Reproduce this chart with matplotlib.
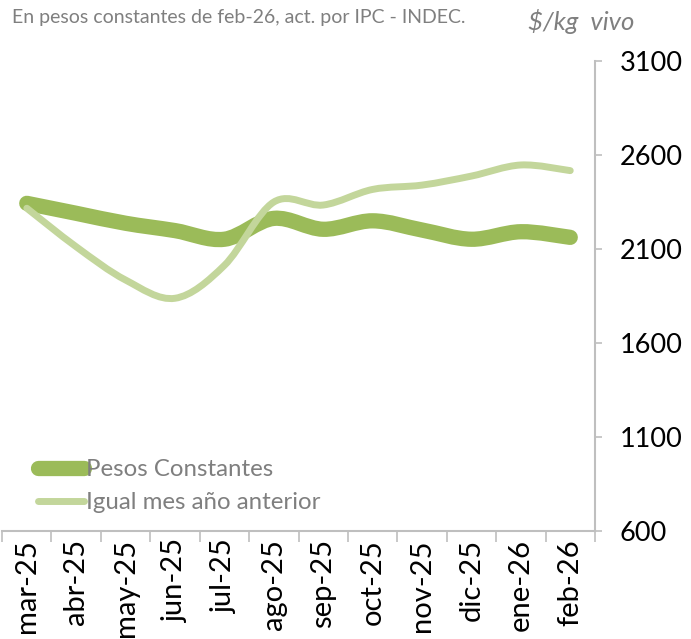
import matplotlib
matplotlib.use("Agg")
import matplotlib.pyplot as plt
from matplotlib.path import Path
from matplotlib.patches import PathPatch
from matplotlib.lines import Line2D

plt.rcParams["font.family"] = ["Lato", "DejaVu Sans"]

months = ["mar-25", "abr-25", "may-25", "jun-25", "jul-25", "ago-25",
          "sep-25", "oct-25", "nov-25", "dic-25", "ene-26", "feb-26"]
pesos_constantes = [2343, 2290, 2237, 2198, 2152, 2263,
                    2205, 2250, 2201, 2152, 2192, 2162]
igual_mes_anterior = [2317, 2112, 1935, 1838, 2013, 2350,
                      2334, 2417, 2440, 2488, 2547, 2517]
yticks = [600, 1100, 1600, 2100, 2600, 3100]

C_DARK, C_LIGHT, GRAY = "#9BBB59", "#C3D69B", "#BFBFBF"


def smooth_path(xs, ys):
    # Excel-style smoothed line: cubic Bezier through every point
    pts = list(zip(xs, ys))
    verts, codes = [pts[0]], [Path.MOVETO]
    n = len(pts)
    for i in range(n - 1):
        p0 = pts[max(i - 1, 0)]
        p1, p2 = pts[i], pts[i + 1]
        p3 = pts[min(i + 2, n - 1)]
        c1 = (p1[0] + (p2[0] - p0[0]) / 6, p1[1] + (p2[1] - p0[1]) / 6)
        c2 = (p2[0] - (p3[0] - p1[0]) / 6, p2[1] - (p3[1] - p1[1]) / 6)
        verts += [c1, c2, p2]
        codes += [Path.CURVE4] * 3
    return Path(verts, codes)


fig = plt.figure(figsize=(6.91, 6.39), dpi=100)
ax = fig.add_axes([0.003, 0.169, 0.858, 0.7355])
xs = list(range(len(months)))
ax.add_patch(PathPatch(smooth_path(xs, pesos_constantes), fill=False,
                       edgecolor=C_DARK, lw=11, capstyle="round",
                       joinstyle="round"))
ax.add_patch(PathPatch(smooth_path(xs, igual_mes_anterior), fill=False,
                       edgecolor=C_LIGHT, lw=5, capstyle="round",
                       joinstyle="round"))

ax.set_xlim(-0.5, len(months) - 0.5)
ax.set_ylim(600, 3100)
ax.set_yticks(yticks)
ax.yaxis.tick_right()
ax.tick_params(axis="y", labelsize=19.5, length=5, width=1.2, color=GRAY,
               pad=13, direction="out")
ax.set_xticks(xs)
ax.set_xticklabels(months, rotation=90, fontsize=21)
ax.set_xticks([i - 0.5 for i in range(len(months) + 1)], minor=True)
ax.tick_params(axis="x", which="major", length=0, pad=6)
ax.tick_params(axis="x", which="minor", length=8, width=1.2, color=GRAY)
for side in ("left", "top"):
    ax.spines[side].set_visible(False)
for side in ("right", "bottom"):
    ax.spines[side].set_color(GRAY)
    ax.spines[side].set_linewidth(1.5)

handles = [Line2D([], [], color=C_DARK, lw=11, solid_capstyle="round"),
           Line2D([], [], color=C_LIGHT, lw=5, solid_capstyle="round")]
leg = ax.legend(handles, ["Pesos Constantes", "Igual mes año anterior"],
                loc="lower left", bbox_to_anchor=(0.045, 0.017), frameon=False,
                fontsize=17.3, handlelength=1.9, handletextpad=0.1,
                labelspacing=0.5, borderaxespad=0)
for t in leg.get_texts():
    t.set_color("#7F7F7F")

fig.text(0.017, 0.972, "En pesos constantes de feb-26, act. por IPC - INDEC.",
         fontsize=14, color="#7F7F7F", va="center", ha="left")
fig.text(0.764, 0.966, "$/kg  vivo", fontsize=18.5, color="#7F7F7F",
         style="italic", va="center", ha="left")

fig.savefig("out.png", dpi=100)
